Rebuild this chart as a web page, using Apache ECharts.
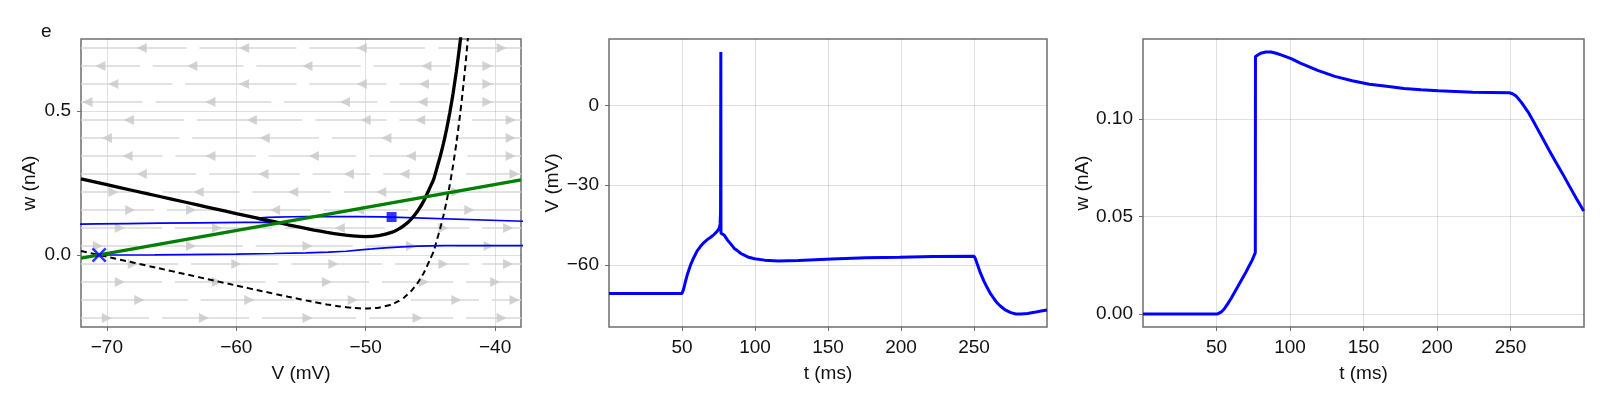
<!DOCTYPE html>
<html>
<head>
<meta charset="utf-8">
<script src="https://cdn.jsdelivr.net/npm/echarts@6/dist/echarts.min.js"></script>
<style>html,body{margin:0;padding:0;background:#fff}#c{width:1600px;height:400px}</style>
</head>
<body>
<div id="c"></div>
<script>
// ---------- tick labels ----------
const phaseVTicks = [-70, -60, -50, -40];
const phaseWTicks = [0, 0.5];
const timeTicks = [50, 100, 150, 200, 250];
const voltTicks = [-60, -30, 0];
const adaptTicks = [0, 0.05, 0.10];

// ---------- phase plane: nullclines ----------
const nullV = [-72, -70, -68, -66, -64, -62, -60, -58, -56, -54, -53, -52, -51, -50, -49, -48, -47.5, -47, -46.5, -46, -45.5, -45, -44.75, -44.5, -44.25, -44, -43.75, -43.5, -43.25, -43, -42.75, -42.5, -42.25, -42];
const nullWDashed = [0.014, -0.006, -0.026, -0.046, -0.066, -0.086, -0.106, -0.1256, -0.145, -0.1633, -0.1715, -0.1786, -0.1839, -0.186, -0.183, -0.1716, -0.1612, -0.1464, -0.1259, -0.0982, -0.0612, -0.0124, 0.0126, 0.0518, 0.0911, 0.1357, 0.1867, 0.2448, 0.311, 0.3863, 0.4722, 0.569, 0.680, 0.806];
const nullWSolid = [0.264, 0.244, 0.224, 0.204, 0.184, 0.164, 0.144, 0.1244, 0.105, 0.0867, 0.0785, 0.0714, 0.0661, 0.064, 0.067, 0.0784, 0.0888, 0.1036, 0.1241, 0.1518, 0.1888, 0.2376, 0.2626, 0.3018, 0.3411, 0.3857, 0.4367, 0.4948, 0.561, 0.6363, 0.7222, 0.819, 0.930, 1.056];
const wNullV = [-72, -38];
const wNullW = [-0.0112, 0.2608];

// ---------- phase plane: trajectory ----------
const lowTrajV = [-70.6, -66.3, -60.0, -57.1, -54.6, -52.9, -51.5, -50.4, -49.5, -48.5, -47.2, -46.0, -44.0, 20];
const lowTrajW = [0, 0.0006, 0.0032, 0.0052, 0.0075, 0.0100, 0.0130, 0.0180, 0.0210, 0.0250, 0.0285, 0.0310, 0.0324, 0.0330];
const upTrajV = [20, -48.0, -48.7, -50.6, -52.1, -53.7, -54.6, -55.6, -56.9, -57.6, -58.1, -58.4, -58.2, -57.7, -57.2, -57.0, -56.7, -56.6, -57.5, -59.4, -62.9, -65.9, -68.4, -70.7, -72.5, -74.2];
const upTrajW = [0.034, 0.1318, 0.1325, 0.1330, 0.1334, 0.1334, 0.1332, 0.1328, 0.1318, 0.1305, 0.1287, 0.1255, 0.1225, 0.1185, 0.1160, 0.1148, 0.1140, 0.1137, 0.1135, 0.1130, 0.1118, 0.1105, 0.1092, 0.1078, 0.1066, 0.1055];
const restPoint = [-70.6, 0];
const resetPoint = [-48.0, 0.1318];

// ---------- phase plane: stream field ----------
const streamRowW = [0.719, 0.656, 0.594, 0.531, 0.469, 0.406, 0.344, 0.281, 0.219, 0.156, 0.094, 0.031, -0.031, -0.094, -0.156, -0.219];
const leftArrowV = [
  [-67.3, -59.4, -50.3],
  [-70.5, -63.4, -54.5, -45.3],
  [-69.5, -59.4, -50.3, -45.5],
  [-71.5, -62.0, -51.6, -45.6],
  [-68.3, -58.8, -50.0, -45.8],
  [-70.0, -57.8, -48.4],
  [-68.4, -62.0, -54.0, -46.5],
  [-67.3, -57.9, -51.3, -47.0],
  [-62.9, -55.6, -48.8],
  [-57.0, -50.5],
  [-52.0],
  [], [], [], [], []
];
const rightArrowV = [
  [-39.5],
  [-40.6],
  [-40.6],
  [-40.6],
  [-38.8],
  [-38.8],
  [-38.8],
  [-38.5],
  [-69.5, -43.0],
  [-68.2, -63.5, -42.0],
  [-69.0, -61.5, -44.0, -39.0],
  [-70.7, -63.5, -54.5, -46.5, -40.5],
  [-68.0, -60.0, -52.5, -44.0, -39.0],
  [-69.0, -61.5, -53.0, -45.5, -40.0],
  [-67.5, -59.0, -51.0, -43.0, -38.5],
  [-70.0, -62.5, -54.5, -46.0, -39.5]
];

// ---------- time courses ----------
const vTime = [0, 50, 51.2, 52.3, 53.5, 55.8, 58.1, 60.4, 62.7, 65.0, 67.3, 69.6, 71.9, 74.2, 75.6, 76.1, 76.4, 76.6, 76.7, 78.9, 81.2, 83.5, 85.8, 88.1, 90.4, 95.0, 99.7, 106.6, 115.8, 129.7, 152.8, 175.9, 199.0, 222.1, 250.0, 250.9, 252.1, 254.4, 256.7, 259.0, 261.3, 263.6, 265.9, 268.2, 271.7, 275.2, 278.6, 282.1, 286.7, 291.3, 295.9, 300];
const vValues = [-70.6, -70.6, -68.8, -66.3, -63.8, -60.0, -57.1, -54.6, -52.9, -51.5, -50.4, -49.5, -48.5, -47.2, -46.0, -44.5, -40, 20, -48.0, -48.7, -50.6, -52.1, -53.7, -54.6, -55.6, -56.9, -57.6, -58.1, -58.4, -58.2, -57.7, -57.2, -57.0, -56.7, -56.6, -57.5, -59.4, -62.9, -65.9, -68.4, -70.7, -72.5, -74.2, -75.4, -76.9, -77.8, -78.3, -78.3, -78.1, -77.7, -77.2, -76.8];
const wTime = [0, 50.7, 53.1, 55.4, 57.7, 60.1, 62.4, 64.8, 67.1, 69.5, 71.8, 74.2, 76.4, 76.5, 77.7, 80.0, 83.6, 87.1, 90.6, 95.3, 101.2, 107.0, 118.8, 130.5, 142.3, 154.0, 165.7, 177.5, 189.2, 200.9, 212.7, 224.4, 236.1, 249.1, 251.4, 253.8, 257.3, 262.0, 266.7, 271.4, 276.1, 280.7, 285.4, 290.1, 294.8, 299.8];
const wValues = [0, 0, 0.0009, 0.0027, 0.0053, 0.0082, 0.0113, 0.0145, 0.0176, 0.0207, 0.0241, 0.0275, 0.0315, 0.1321, 0.1330, 0.1338, 0.1344, 0.1344, 0.1338, 0.1326, 0.1309, 0.1287, 0.1250, 0.1219, 0.1197, 0.1179, 0.1168, 0.1157, 0.1150, 0.1145, 0.1142, 0.1138, 0.1137, 0.1135, 0.1130, 0.1118, 0.1087, 0.1036, 0.0973, 0.0908, 0.0843, 0.0781, 0.0720, 0.0656, 0.0593, 0.0528];

// ---------- build ----------
const FONT = '"Liberation Sans", Arial, Helvetica, sans-serif';
const FS = 19;
const TXT = '#111111';
const FRAME = '#6e6e6e';
const zip = (a, b) => a.map((x, i) => [x, b[i]]);
const minus = s => String(s).replace('-', '\u2212');

const PV = [-72, -38];
const segs = [];
const arrowsL = [];
const arrowsR = [];
streamRowW.forEach((w, r) => {
  leftArrowV[r].forEach(v => arrowsL.push([v, w]));
  rightArrowV[r].forEach(v => arrowsR.push([v, w]));
  const all = leftArrowV[r].concat(rightArrowV[r]).sort((a, b) => a - b);
  const bounds = [PV[0]];
  for (let i = 0; i < all.length - 1; i++) bounds.push((all[i] + all[i + 1]) / 2);
  bounds.push(PV[1]);
  for (let i = 0; i < bounds.length - 1; i++) {
    const a = i === 0 ? bounds[i] : bounds[i] + 0.5;
    const b = i === bounds.length - 2 ? bounds[i + 1] : bounds[i + 1] - 0.5;
    segs.push({ coords: [[a, w], [b, w]] });
  }
});

function xAx(gi, min, max, ticks, name, fmt) {
  return {
    type: 'value', gridIndex: gi, min: min, max: max,
    axisLine: { show: false, onZero: false },
    axisTick: { show: true, inside: false, length: 4, customValues: ticks, lineStyle: { color: FRAME, width: 1 } },
    axisLabel: { customValues: ticks, margin: 11, fontSize: FS, color: TXT, fontFamily: FONT, formatter: fmt },
    splitLine: { show: true, lineStyle: { color: 'rgba(0,0,0,0.12)', width: 1 } },
    name: name, nameLocation: 'middle', nameGap: 37,
    nameTextStyle: { fontSize: FS, color: TXT, fontFamily: FONT }
  };
}
function yAx(gi, min, max, ticks, name, gap, fmt) {
  return {
    type: 'value', gridIndex: gi, min: min, max: max,
    axisLine: { show: false, onZero: false },
    axisTick: { show: true, inside: false, length: 4, customValues: ticks, lineStyle: { color: FRAME, width: 1 } },
    axisLabel: { customValues: ticks, margin: 10, fontSize: FS, color: TXT, fontFamily: FONT, formatter: fmt },
    splitLine: { show: true, lineStyle: { color: 'rgba(0,0,0,0.12)', width: 1 } },
    name: name, nameLocation: 'middle', nameGap: gap, nameRotate: 90,
    nameTextStyle: { fontSize: FS, color: TXT, fontFamily: FONT }
  };
}
const gridBase = { show: true, borderColor: FRAME, borderWidth: 1.5, backgroundColor: 'transparent', containLabel: false };

const chart = echarts.init(document.getElementById('c'), null, { renderer: 'canvas' });
chart.setOption({
  animation: false,
  backgroundColor: '#ffffff',
  textStyle: { fontFamily: FONT },
  graphic: [{ type: 'text', left: 41, top: 22, style: { text: 'e', fontSize: FS, fill: TXT, fontFamily: FONT } }],
  grid: [
    Object.assign({ left: 81, top: 39, width: 440, height: 288 }, gridBase),
    Object.assign({ left: 609, top: 39, width: 438, height: 288 }, gridBase),
    Object.assign({ left: 1143, top: 39, width: 441, height: 288 }, gridBase)
  ],
  xAxis: [
    xAx(0, -72, -38, phaseVTicks, 'V (mV)', v => minus(v)),
    xAx(1, 0, 300, timeTicks, 't (ms)', v => String(v)),
    xAx(2, 0, 300, timeTicks, 't (ms)', v => String(v))
  ],
  yAxis: [
    yAx(0, -0.25, 0.75, phaseWTicks, 'w (nA)', 42, v => minus(v.toFixed(1))),
    yAx(1, -83.2, 24.9, voltTicks, 'V (mV)', 47, v => minus(v)),
    yAx(2, -0.0067, 0.1411, adaptTicks, 'w (nA)', 50, v => minus(v.toFixed(2)))
  ],
  series: [
    { type: 'lines', coordinateSystem: 'cartesian2d', xAxisIndex: 0, yAxisIndex: 0, silent: true,
      data: segs, symbol: ['none', 'none'], lineStyle: { color: '#d8d8d8', width: 1.5, opacity: 1 }, z: 1 },
    { type: 'scatter', xAxisIndex: 0, yAxisIndex: 0, silent: true, data: arrowsL, symbol: 'triangle',
      symbolSize: [10, 10], symbolRotate: 90, itemStyle: { color: '#c8c8c8' }, z: 1 },
    { type: 'scatter', xAxisIndex: 0, yAxisIndex: 0, silent: true, data: arrowsR, symbol: 'triangle',
      symbolSize: [10, 10], symbolRotate: -90, itemStyle: { color: '#c8c8c8' }, z: 1 },
    { type: 'line', xAxisIndex: 0, yAxisIndex: 0, data: zip(nullV, nullWDashed), showSymbol: false, smooth: 0.2,
      lineStyle: { color: '#000', width: 2, type: [6, 4] }, z: 2 },
    { type: 'line', xAxisIndex: 0, yAxisIndex: 0, data: zip(lowTrajV, lowTrajW), showSymbol: false,
      lineStyle: { color: '#0000ff', width: 1.7 }, z: 3 },
    { type: 'line', xAxisIndex: 0, yAxisIndex: 0, data: zip(upTrajV, upTrajW), showSymbol: false,
      lineStyle: { color: '#0000ff', width: 1.7 }, z: 3 },
    { type: 'line', xAxisIndex: 0, yAxisIndex: 0, data: zip(nullV, nullWSolid), showSymbol: false, smooth: 0.2,
      lineStyle: { color: '#000', width: 3.3 }, z: 4 },
    { type: 'line', xAxisIndex: 0, yAxisIndex: 0, data: zip(wNullV, wNullW), showSymbol: false,
      lineStyle: { color: '#008000', width: 3.3 }, z: 5 },
    { type: 'scatter', xAxisIndex: 0, yAxisIndex: 0, data: [restPoint], symbolSize: 15,
      symbol: 'path://M0,1.2L1.2,0L5,3.8L8.8,0L10,1.2L6.2,5L10,8.8L8.8,10L5,6.2L1.2,10L0,8.8L3.8,5Z',
      itemStyle: { color: '#0000ff' }, z: 6 },
    { type: 'scatter', xAxisIndex: 0, yAxisIndex: 0, data: [resetPoint], symbol: 'rect', symbolSize: 10,
      itemStyle: { color: '#0000ff' }, z: 6 },
    { type: 'line', xAxisIndex: 1, yAxisIndex: 1, data: zip(vTime, vValues), showSymbol: false,
      lineStyle: { color: '#0000ff', width: 3 }, z: 3 },
    { type: 'line', xAxisIndex: 2, yAxisIndex: 2, data: zip(wTime, wValues), showSymbol: false,
      lineStyle: { color: '#0000ff', width: 3 }, z: 3 }
  ]
});
</script>
</body>
</html>
